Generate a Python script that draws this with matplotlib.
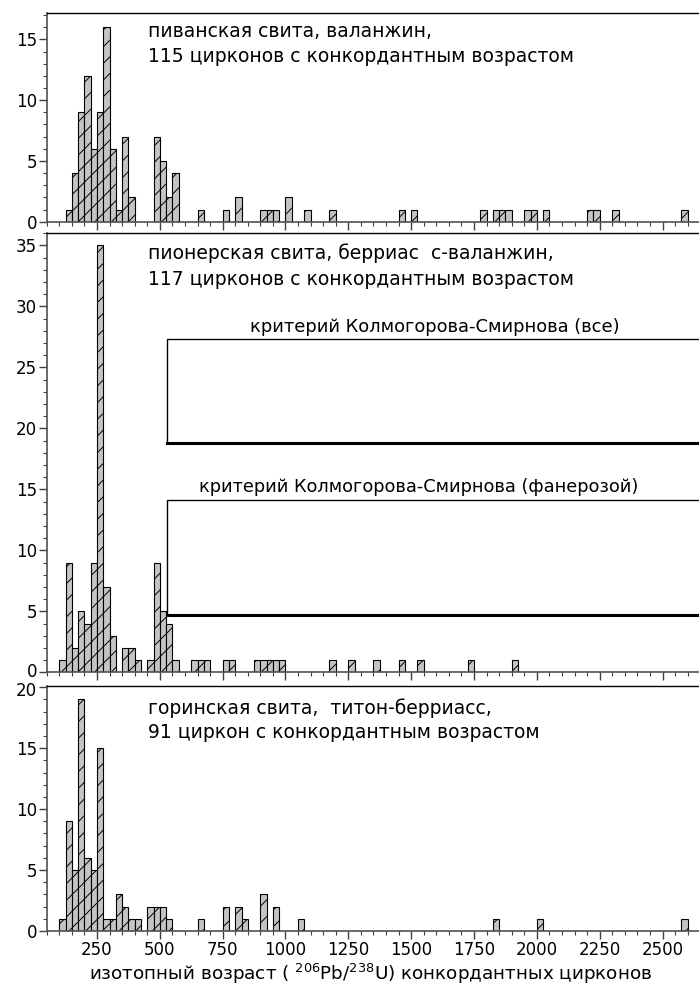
import matplotlib
matplotlib.use("Agg")
import matplotlib.pyplot as plt
from matplotlib.ticker import MultipleLocator
from matplotlib.patches import Rectangle
from matplotlib.lines import Line2D
from matplotlib.transforms import ScaledTranslation

plt.rcParams['font.family'] = ['DejaVu Sans']
plt.rcParams['mathtext.fontset'] = 'dejavusans'
plt.rcParams['hatch.linewidth'] = 0.7
plt.rcParams['hatch.color'] = 'black'

BIN = 25

# Panel 1: пиванская свита
piv_left = [125, 150, 175, 200, 225, 250, 275, 300, 325, 350, 375, 475, 500, 525, 550,
            650, 750, 800, 900, 925, 950, 1000, 1075, 1175, 1450, 1500, 1775, 1825,
            1850, 1875, 1950, 1975, 2025, 2200, 2225, 2300, 2575]
piv_count = [1, 4, 9, 12, 6, 9, 16, 6, 1, 7, 2, 7, 5, 2, 4,
             1, 1, 2, 1, 1, 1, 2, 1, 1, 1, 1, 1, 1,
             1, 1, 1, 1, 1, 1, 1, 1, 1]

# Panel 2: пионерская свита
pio_left = [100, 125, 150, 175, 200, 225, 250, 275, 300, 350, 375, 400, 450, 475, 500,
            525, 550, 625, 650, 675, 750, 775, 875, 900, 925, 950, 975, 1175, 1250,
            1350, 1450, 1525, 1725, 1900]
pio_count = [1, 9, 2, 5, 4, 9, 35, 7, 3, 2, 2, 1, 1, 9, 5,
             4, 1, 1, 1, 1, 1, 1, 1, 1, 1, 1, 1, 1, 1,
             1, 1, 1, 1, 1]

# Panel 3: горинская свита
gor_left = [100, 125, 150, 175, 200, 225, 250, 275, 300, 325, 350, 375, 400, 450, 475,
            500, 525, 650, 750, 800, 825, 900, 950, 1050, 1825, 2000, 2575]
gor_count = [1, 9, 5, 19, 6, 5, 15, 1, 1, 3, 2, 1, 1, 2, 2,
             2, 1, 1, 2, 2, 1, 3, 2, 1, 1, 1, 1]

x_ticks = [250, 500, 750, 1000, 1250, 1500, 1750, 2000, 2250, 2500]

texts1 = ["пиванская свита, валанжин,", "115 цирконов с конкордантным возрастом"]
texts2 = ["пионерская свита, берриас  с-валанжин,", "117 цирконов с конкордантным возрастом"]
texts3 = ["горинская свита,  титон-берриасс,", "91 циркон с конкордантным возрастом"]
ks_all = "критерий Колмогорова-Смирнова (все)"
ks_phan = "критерий Колмогорова-Смирнова (фанерозой)"
xlabel = "изотопный возраст ( $^{206}$Pb/$^{238}$U) конкордантных цирконов"

W, H = 699, 989
fig = plt.figure(figsize=(W / 100, H / 100), dpi=100)

def px_axes(left, top, right, bottom):
    return fig.add_axes([left / W, 1 - bottom / H, (right - left) / W, (bottom - top) / H])

ax1 = px_axes(46.7, 12.7, 699, 221.7)
ax2 = px_axes(46.7, 233.3, 699, 672.3)
ax3 = px_axes(46.7, 686, 699, 931)

panels = [(ax1, piv_left, piv_count, 17.2, [0, 5, 10, 15]),
          (ax2, pio_left, pio_count, 36.0, [0, 5, 10, 15, 20, 25, 30, 35]),
          (ax3, gor_left, gor_count, 20.1, [0, 5, 10, 15, 20])]

for ax, lefts, counts, ytop, yt in panels:
    ax.bar(lefts, counts, width=BIN, align='edge', color='#c4c4c4',
           edgecolor='black', linewidth=0.8, hatch='//', zorder=2)
    ax.set_xlim(50, 2645)
    ax.set_ylim(0, ytop)
    ax.set_yticks(yt)
    ax.yaxis.set_minor_locator(MultipleLocator(1))
    ax.set_xticks(x_ticks)
    ax.xaxis.set_minor_locator(MultipleLocator(50))
    ax.spines['right'].set_visible(False)
    ax.spines['top'].set_color('black')
    ax.spines['top'].set_linewidth(1.0)
    for s in ['left', 'bottom']:
        ax.spines[s].set_color('#505050')
        ax.spines[s].set_linewidth(1.2)
    ax.tick_params(axis='both', which='major', direction='out', length=5.5, width=1.0,
                   color='#404040', labelsize=12, pad=1.5)
    ax.tick_params(axis='both', which='minor', direction='out', length=3, width=0.8,
                   color='#404040')
    ax.patch.set_alpha(0)

ax1.set_xticklabels([])
ax2.set_xticklabels([])
ax3.set_xticklabels([str(t) for t in x_ticks])

# small nudges so the "0" of the middle panel and the "20" of the lower one do not touch
lab0 = ax2.get_yticklabels()[0]
lab0.set_transform(lab0.get_transform() + ScaledTranslation(0, 1.6 / 72, fig.dpi_scale_trans))
lab20 = ax3.get_yticklabels()[-1]
lab20.set_transform(lab20.get_transform() + ScaledTranslation(0, -1.2 / 72, fig.dpi_scale_trans))

fs = 13.5
tx = (148 - 46.7) / (W - 46.7)
ax1.text(tx, 0.885, texts1[0], transform=ax1.transAxes, fontsize=fs, va='baseline')
ax1.text(tx, 0.7656, texts1[1], transform=ax1.transAxes, fontsize=fs, va='baseline')
ax2.text(tx, 0.9408, texts2[0], transform=ax2.transAxes, fontsize=fs, va='baseline')
ax2.text(tx, 0.8822, texts2[1], transform=ax2.transAxes, fontsize=fs, va='baseline')
ax3.text(tx, 0.8857, texts3[0], transform=ax3.transAxes, fontsize=fs, va='baseline')
ax3.text(tx, 0.7878, texts3[1], transform=ax3.transAxes, fontsize=fs, va='baseline')

# Kolmogorov-Smirnov boxes in panel 2
bx = (166.7 - 46.7) / (W - 46.7)
for top, bot in [(0.759, 0.5216), (0.3925, 0.1305)]:
    ax2.add_patch(Rectangle((bx, bot), 1.05 - bx, top - bot, transform=ax2.transAxes,
                            fill=False, edgecolor='black', linewidth=1.0, clip_on=False, zorder=3))
    ax2.add_line(Line2D([bx, 1.05], [bot, bot], transform=ax2.transAxes, color='black',
                        linewidth=2.2, clip_on=False, zorder=3))
ax2.text((434.7 - 46.7) / (W - 46.7), 0.775, ks_all, transform=ax2.transAxes,
         fontsize=12.9, va='baseline', ha='center')
ax2.text((418.5 - 46.7) / (W - 46.7), 0.4107, ks_phan, transform=ax2.transAxes,
         fontsize=12.8, va='baseline', ha='center')

fig.text(370.5 / W, 1 - 980 / H, xlabel, ha='center', va='baseline', fontsize=13.2)

fig.savefig("out.png", dpi=100)
